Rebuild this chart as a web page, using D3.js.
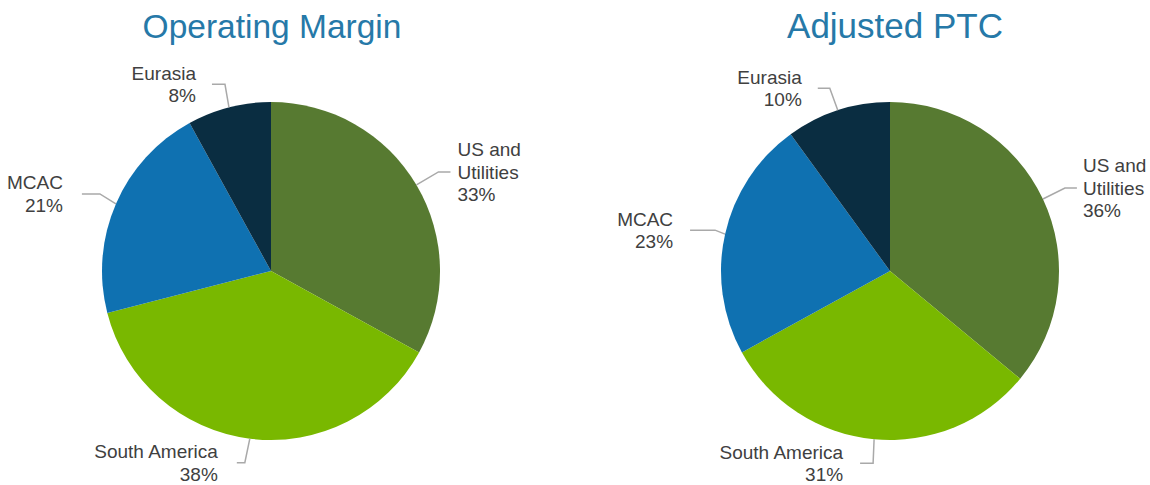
<!DOCTYPE html>
<html>
<head>
<meta charset="utf-8">
<script src="https://cdn.jsdelivr.net/npm/d3@7"></script>
<style>
  body { margin: 0; background: #fff; }
  svg { display: block; font-family: "Liberation Sans", Arial, sans-serif; }
</style>
</head>
<body>
<svg id="chart" width="1150" height="485"></svg>
<script>
// data
var categories = ["US and Utilities", "South America", "MCAC", "Eurasia"];
var labelLines = [["US and", "Utilities"], ["South America"], ["MCAC"], ["Eurasia"]];
var operatingMargin = [33, 38, 21, 8];
var adjustedPTC = [36, 31, 23, 10];
var titles = ["Operating Margin", "Adjusted PTC"];

var colors = d3.scaleOrdinal()
  .domain(categories)
  .range(["#577a31", "#79b800", "#0f71b1", "#0a2d41"]);

var svg = d3.select("#chart");
var radius = 169;

// label placement: elbow offset from the slice edge, then a short horizontal tail
var layouts = [
  [ {ex: 22, ey: -13, tail: 12, pad: 7},
    {ex: -5, ey: 24, tail: -8, pad: 19},
    {ex: -16, ey: -10, tail: -18, pad: 19},
    {ex: -4, ey: -23, tail: -13, pad: 16} ],
  [ {ex: 22, ey: -11, tail: 12, pad: 6},
    {ex: -1, ey: 24, tail: -13, pad: 17},
    {ex: -10, ey: -4, tail: -25, pad: 17},
    {ex: -8, ey: -22, tail: -12, pad: 16} ]
];

var charts = [
  {title: titles[0], values: operatingMargin, cx: 271, cy: 271, tx: 272, fs: 33.5},
  {title: titles[1], values: adjustedPTC, cx: 890, cy: 271, tx: 895, fs: 35}
];

var pie = d3.pie().sort(null).value(function(d) { return d; });
var arc = d3.arc().innerRadius(0).outerRadius(radius);
var edge = d3.arc().innerRadius(radius).outerRadius(radius);
var lineH = 22.5;

charts.forEach(function(c, ci) {
  svg.append("text")
    .attr("x", c.tx)
    .attr("y", 38)
    .attr("text-anchor", "middle")
    .attr("fill", "#2679a8")
    .style("font-size", c.fs + "px")
    .text(c.title);

  var g = svg.append("g")
    .attr("transform", "translate(" + c.cx + "," + c.cy + ")");

  var arcs = pie(c.values);

  g.selectAll("path.slice")
    .data(arcs)
    .enter()
    .append("path")
      .attr("class", "slice")
      .attr("d", arc)
      .attr("fill", function(d, i) { return colors(categories[i]); });

  arcs.forEach(function(d, i) {
    var lay = layouts[ci][i];
    var p = edge.centroid(d);
    var elbow = [p[0] + lay.ex, p[1] + lay.ey];
    var end = [elbow[0] + lay.tail, elbow[1]];

    g.append("path")
      .attr("d", d3.line()([p, elbow, end]))
      .attr("fill", "none")
      .attr("stroke", "#a9a9a9")
      .attr("stroke-width", 1.5);

    var lines = labelLines[i].concat([c.values[i] + "%"]);
    var right = lay.tail > 0;
    var tx = end[0] + (right ? lay.pad : -lay.pad);
    var y0 = end[1] - (lines.length - 1) * lineH / 2 + 6.8;

    var t = g.append("text")
      .attr("text-anchor", right ? "start" : "end")
      .attr("fill", "#404040")
      .style("font-size", "19px");
    lines.forEach(function(s, k) {
      t.append("tspan")
        .attr("x", tx)
        .attr("y", y0 + k * lineH)
        .text(s);
    });
  });
});
</script>
</body>
</html>
